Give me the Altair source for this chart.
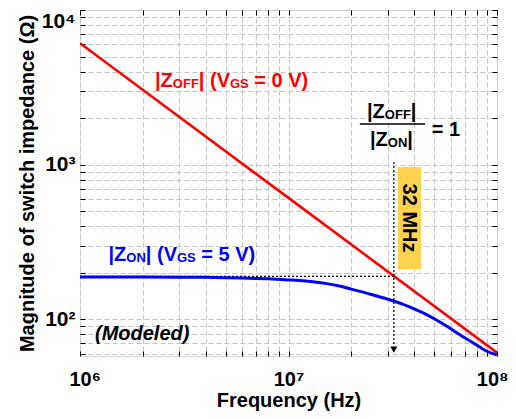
import altair as alt
import pandas as pd

# ---- data ----
freq_off = [1e6, 1e7, 1e8]
z_off = [6100, 610, 61]

freq_on = [1e6, 2e6, 3e6, 4e6, 5e6, 6e6, 7e6, 8e6, 1e7, 1.2e7, 1.5e7, 1.8e7, 2e7, 2.5e7,
           3e7, 3.5e7, 4e7, 4.5e7, 5e7, 5.7e7, 6.5e7, 7e7, 7.5e7, 8.3e7, 9e7, 1e8]
z_on = [188, 188, 187.5, 187, 186, 185, 184, 183, 180, 177, 171, 163, 157, 145,
        135, 126, 117, 109, 101, 91, 81, 76, 72, 66, 62, 59]

x_ticks = [1e6, 2e6, 3e6, 4e6, 5e6, 6e6, 7e6, 8e6, 9e6,
           1e7, 2e7, 3e7, 4e7, 5e7, 6e7, 7e7, 8e7, 9e7, 1e8]
y_ticks = [60, 70, 80, 90, 100, 200, 300, 400, 500, 600, 700, 800, 900,
           1000, 2000, 3000, 4000, 5000, 6000, 7000, 8000, 9000, 10000]
x_labels = {1000000: "10⁶", 10000000: "10⁷", 100000000: "10⁸"}
y_labels = {100: "10²", 1000: "10³", 10000: "10⁴"}

cross_freq = 3.2e7   # 32 MHz
cross_z = 190

FONT = "Liberation Sans"
RED = "#ff0000"
BLUE = "#0000ff"

def label_expr(d):
    parts = [f"datum.value == {k} ? '{v}'" for k, v in d.items()]
    return " : ".join(parts) + " : ''"

xs = alt.Scale(type="log", domain=[1e6, 1e8], nice=False)
ys = alt.Scale(type="log", domain=[58, 1e4], nice=False)

def X(axis=None, field="f"):
    return alt.X(f"{field}:Q", scale=xs, axis=axis)

def Y(axis=None, field="z"):
    return alt.Y(f"{field}:Q", scale=ys, axis=axis)

x_axis = alt.Axis(values=x_ticks, labelExpr=label_expr(x_labels), orient="bottom",
                  grid=True, gridColor="#c4c4c4", gridDash=[5, 3], gridWidth=1,
                  domain=False, offset=-5, tickSize=5, tickColor="black", tickWidth=1,
                  labelFont=FONT, labelFontSize=20, labelFontWeight="bold", labelColor="black",
                  labelPadding=13, labelFlush=True, labelFlushOffset=11, labelOverlap=False,
                  title="Frequency (Hz)", titleFont=FONT, titleFontSize=20,
                  titleFontWeight="bold", titleColor="black", titlePadding=1)
y_axis = alt.Axis(values=y_ticks, labelExpr=label_expr(y_labels), orient="left",
                  grid=True, gridColor="#c4c4c4", gridDash=[5, 3], gridWidth=1,
                  domain=False, offset=-5, tickSize=5, tickColor="black", tickWidth=1,
                  labelFont=FONT, labelFontSize=21, labelFontWeight="bold", labelColor="black",
                  labelPadding=5, labelFlush=True, labelOverlap=False,
                  title="Magnitude of switch impedance (Ω)", titleFont=FONT, titleFontSize=20,
                  titleFontWeight="bold", titleColor="black", titlePadding=4)
x_mirror = alt.Axis(values=x_ticks, orient="top", labels=False, grid=False, domain=False,
                    offset=-5, tickSize=5, tickColor="black", tickWidth=1, title=None)
y_mirror = alt.Axis(values=y_ticks, orient="right", labels=False, grid=False, domain=False,
                    offset=-5, tickSize=5, tickColor="black", tickWidth=1, title=None)

off_df = pd.DataFrame({"f": freq_off, "z": z_off})
on_df = pd.DataFrame({"f": freq_on, "z": z_on})

red_line = alt.Chart(off_df).mark_line(color=RED, strokeWidth=2.6, clip=True).encode(
    x=X(x_axis), y=Y(y_axis))
blue_line = alt.Chart(on_df).mark_line(color=BLUE, strokeWidth=3, clip=True,
                                       interpolate="monotone").encode(x=X(), y=Y())

# dotted guides
h_df = pd.DataFrame({"f": [1e6], "f2": [cross_freq], "z": [cross_z]})
h_rule = alt.Chart(h_df).mark_rule(color="black", strokeDash=[2, 2], strokeWidth=1.2).encode(
    x=X(), x2="f2:Q", y=Y())
v_df = pd.DataFrame({"f": [cross_freq], "z": [1040], "z2": [68]})
v_rule = alt.Chart(v_df).mark_rule(color="black", strokeDash=[2, 2], strokeWidth=1.2).encode(
    x=X(), y=Y(), y2="z2:Q")
arrow_df = pd.DataFrame({"f": [cross_freq], "z": [63.8]})
arrow = alt.Chart(arrow_df).mark_point(shape="triangle-down", filled=True, color="black",
                                       size=50, opacity=1).encode(
    x=X(x_mirror), y=Y(y_mirror))

# yellow highlight with rotated label
box_df = pd.DataFrame({"f": [3.35e7], "f2": [4.32e7], "z": [966], "z2": [211]})
box = alt.Chart(box_df).mark_rect(color="#ffd350").encode(
    x=X(), x2="f2:Q", y=Y(), y2="z2:Q")
mhz_df = pd.DataFrame({"f": [3.8e7], "z": [452]})
mhz = alt.Chart(mhz_df).mark_text(text="32 MHz", angle=90, align="center", baseline="middle",
                                  font=FONT, fontSize=20, fontWeight="bold", color="black").encode(
    x=X(), y=Y())

# rich text helpers (subscripts)
W = {'|': 280, 'Z': 611, 'O': 778, 'F': 611, 'N': 722, ' ': 278, '(': 333, ')': 333,
     'V': 667, 'G': 778, 'S': 667, '=': 584, '0': 556, '5': 556, '1': 556}

def tw(s, size):
    return sum(W.get(c, 556) for c in s) * size / 1000.0

def rich(f, z, pieces, color):
    out = []
    dx = 0.0
    df = pd.DataFrame({"f": [f], "z": [z]})
    for txt, size, dy in pieces:
        lead = len(txt) - len(txt.lstrip(" "))
        dx += tw(" " * lead, size)
        t = txt.strip(" ")
        out.append(alt.Chart(df).mark_text(text=t, align="left", baseline="alphabetic",
                                           dx=dx, dy=dy, font=FONT, fontSize=size,
                                           fontWeight="bold", color=color).encode(x=X(), y=Y()))
        dx += tw(t, size) + tw(txt[lead + len(t):], size)
    return out

M, S, SD = 20, 13, 1
off_label = rich(2.29e6, 3180, [("|Z", M, 0), ("OFF", S, SD), ("| (V", M, 0), ("GS", S, SD),
                                 (" = 0 V)", M, 0)], RED)
on_label = rich(1.37e6, 238, [("|Z", M, 0), ("ON", S, SD), ("| (V", M, 0), ("GS", S, SD),
                               (" = 5 V)", M, 0)], BLUE)
num = rich(2.38e7, 2005, [("|Z", M, 0), ("OFF", S, SD), ("|", M, 0)], "black")
den = rich(2.46e7, 1321, [("|Z", M, 0), ("ON", S, SD), ("|", M, 0)], "black")
eq = rich(4.87e7, 1533, [("= 1", M, 0)], "black")

frac_df = pd.DataFrame({"f": [2.2e7], "f2": [4.52e7], "z": [1833]})
frac_line = alt.Chart(frac_df).mark_rule(color="black", strokeWidth=1.6).encode(
    x=X(), x2="f2:Q", y=Y())

mod_df = pd.DataFrame({"f": [1.18e6], "z": [73.5]})
modeled = alt.Chart(mod_df).mark_text(text="(Modeled)", align="left", baseline="alphabetic",
                                      font=FONT, fontSize=20, fontWeight="bold",
                                      fontStyle="italic", color="black").encode(x=X(), y=Y())

chart = alt.layer(
    red_line, box, h_rule, v_rule, blue_line, arrow, mhz, frac_line, modeled,
    *off_label, *on_label, *num, *den, *eq
).resolve_axis(x="independent", y="independent").properties(
    width=417, height=346,
    autosize=alt.AutoSizeParams(type="none"),
    padding={"left": 72, "top": 2, "right": 11, "bottom": 55},
).configure_view(stroke="black", strokeWidth=2).configure(background="white")

chart.save("out.html", embed_options={"renderer": "svg", "actions": False})
